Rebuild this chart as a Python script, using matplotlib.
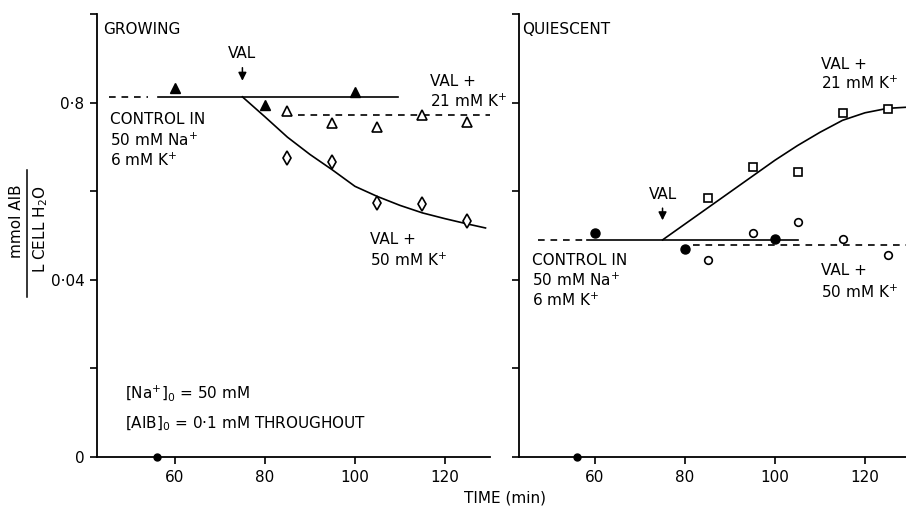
import numpy as np
import matplotlib
matplotlib.use("Agg")
import matplotlib.pyplot as plt
from matplotlib.lines import Line2D

plt.rcParams.update({"font.family": "DejaVu Sans", "font.size": 11, "axes.linewidth": 1.3,
                     "xtick.major.width": 1.2, "ytick.major.width": 1.2,
                     "xtick.major.size": 5, "ytick.major.size": 5})

# ---- GROWING panel ----
g_ctrl_t = [60, 80, 100]
g_ctrl_y = [0.0833, 0.0795, 0.0825]
g_k21_t = [85, 95, 105, 115, 125]
g_k21_y = [0.0782, 0.0753, 0.0744, 0.0771, 0.0757]
g_k50_t = [85, 95, 105, 115, 125]
g_k50_y = [0.0676, 0.0665, 0.0573, 0.0571, 0.0533]
g_curve_t = [75, 80, 85, 90, 95, 100, 105, 110, 115, 120, 125, 129]
g_curve_y = [0.0813, 0.0768, 0.0722, 0.0683, 0.0648, 0.0611, 0.0588, 0.0568, 0.0551, 0.0538, 0.0526, 0.0517]
g_ctrl_level = 0.0813
g_k21_level = 0.0771

# ---- QUIESCENT panel ----
q_ctrl_t = [60, 80, 100]
q_ctrl_y = [0.0506, 0.0470, 0.0492]
q_k21_t = [85, 95, 105, 115, 125]
q_k21_y = [0.0584, 0.0654, 0.0643, 0.0777, 0.0786]
q_k50_t = [85, 95, 105, 115, 125]
q_k50_y = [0.0445, 0.0506, 0.0530, 0.0492, 0.0456]
q_curve_t = [75, 80, 85, 90, 95, 100, 105, 110, 115, 120, 125, 130]
q_curve_y = [0.0490, 0.0526, 0.0562, 0.0598, 0.0634, 0.0670, 0.0703, 0.0733, 0.0760, 0.0777, 0.0787, 0.0790]
q_ctrl_level = 0.0490
q_k50_level = 0.0478

VAL_T = 75
xticks = [60, 80, 100, 120]
yticks = [0, 0.02, 0.04, 0.06, 0.08, 0.10]
ylabels = ["0", "", "0·04", "", "0·8", ""]

W, H = 906, 508
fig = plt.figure(figsize=(9.06, 5.08), dpi=100)
axL = fig.add_axes([97 / W, 1 - 457 / H, 393 / W, 443 / H])
axR = fig.add_axes([519 / W, 1 - 457 / H, 391 / W, 443 / H])

for ax, xl in [(axL, (42.7, 130)), (axR, (43.1, 130))]:
    ax.set_xlim(*xl); ax.set_ylim(0, 0.1)
    for s in ["top", "right"]: ax.spines[s].set_visible(False)
    ax.set_xticks(xticks); ax.set_yticks(yticks)
    ax.tick_params(direction="out", pad=4, labelsize=11)
    # axis-break blob on the time axis
    ax.plot([56], [0], marker="o", ms=5, color="black", clip_on=False, zorder=5)
axL.set_yticklabels(ylabels)
axR.set_yticklabels([])

LW = 1.2
DASH = (4, 3.5)
k = "black"

# GROWING
axL.plot([45.3, 54], [g_ctrl_level] * 2, color=k, lw=LW, dashes=DASH)
axL.plot([56.2, 109.6], [g_ctrl_level] * 2, color=k, lw=LW)
axL.plot([87.3, 130], [g_k21_level] * 2, color=k, lw=LW, dashes=DASH, clip_on=False)
axL.plot(g_curve_t, g_curve_y, color=k, lw=LW)
axL.plot(g_ctrl_t, g_ctrl_y, ls="none", marker="^", ms=7, color=k, zorder=4)
axL.plot(g_k21_t, g_k21_y, ls="none", marker="^", ms=6.5, mfc="white", mec=k, mew=1.2, zorder=4)
axL.plot(g_k50_t, g_k50_y, ls="none", marker="d", ms=7.5, mfc="white", mec=k, mew=1.2, zorder=4)

# QUIESCENT
axR.plot([47.3, 57.3], [q_ctrl_level] * 2, color=k, lw=LW, dashes=DASH)
axR.plot([58.2, 105.1], [q_ctrl_level] * 2, color=k, lw=LW)
axR.plot([81.8, 130], [q_k50_level] * 2, color=k, lw=LW, dashes=DASH, clip_on=False)
axR.plot(q_curve_t, q_curve_y, color=k, lw=LW, clip_on=False)
axR.plot(q_ctrl_t, q_ctrl_y, ls="none", marker="o", ms=6.5, color=k, zorder=4)
axR.plot(q_k21_t, q_k21_y, ls="none", marker="s", ms=6, mfc="white", mec=k, mew=1.2, zorder=4)
axR.plot(q_k50_t, q_k50_y, ls="none", marker="o", ms=5.5, mfc="white", mec=k, mew=1.2, zorder=4)

# VAL arrows
for ax, ytxt, ytop, ybot in [(axL, 0.0910, 0.0885, 0.0843), (axR, 0.0593, 0.0568, 0.0528)]:
    ax.text(VAL_T, ytxt, "VAL", ha="center", va="center")
    ax.annotate("", xy=(VAL_T, ybot), xytext=(VAL_T, ytop),
                arrowprops=dict(arrowstyle="-|>", color=k, lw=1.1, mutation_scale=12))

def lines(ax, x, ys, txts):
    for y, t in zip(ys, txts):
        ax.text(x, y, t, ha="left", va="center", clip_on=False)

ctrl_txt = ["CONTROL IN", "50 mM Na$^{+}$", "6 mM K$^{+}$"]
lines(axL, 44.0, [0.0964], ["GROWING"])
lines(axL, 116.7, [0.0847, 0.0802], ["VAL +", "21 mM K$^{+}$"])
lines(axL, 45.6, [0.0762, 0.0715, 0.0670], ctrl_txt)
lines(axL, 103.3, [0.0492, 0.0445], ["VAL +", "50 mM K$^{+}$"])
lines(axL, 48.9, [0.0144, 0.0076], ["[Na$^{+}$]$_{0}$ = 50 mM", "[AIB]$_{0}$ = 0·1 mM THROUGHOUT"])

lines(axR, 43.8, [0.0964], ["QUIESCENT"])
lines(axR, 110.2, [0.0885, 0.0843], ["VAL +", "21 mM K$^{+}$"])
lines(axR, 46.0, [0.0443, 0.0398, 0.0353], ctrl_txt)
lines(axR, 110.2, [0.0420, 0.0371], ["VAL +", "50 mM K$^{+}$"])

# axis titles
fig.text(505 / W, 1 - 498 / H, "TIME (min)", ha="center", va="center", fontsize=11)
fig.text(17 / W, 1 - 221 / H, "mmol AIB", rotation=90, ha="center", va="center", fontsize=11)
fig.text(41 / W, 1 - 229 / H, "L CELL H$_{2}$O", rotation=90, ha="center", va="center", fontsize=11)
fig.add_artist(Line2D([27 / W, 27 / W], [1 - 170 / H, 1 - 297 / H], color=k, lw=1.1))

fig.savefig("out.png", dpi=100)
